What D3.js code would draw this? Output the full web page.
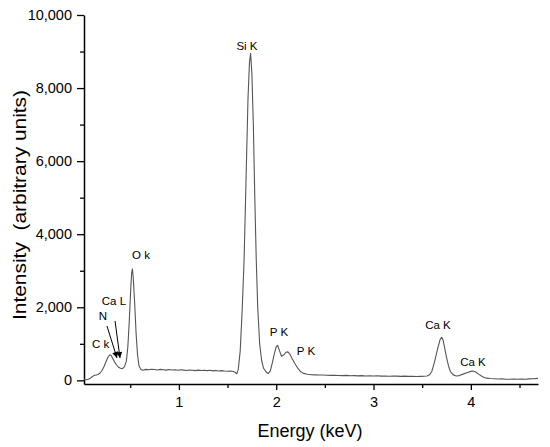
<!DOCTYPE html>
<html>
<head>
<meta charset="utf-8">
<script src="https://cdn.jsdelivr.net/npm/d3@7"></script>
<style>
  html, body { margin: 0; padding: 0; background: #fff; }
  svg { display: block; font-family: "Liberation Sans", Arial, sans-serif; }
</style>
</head>
<body>
<svg id="chart" width="550" height="447"></svg>
<script>
// ---- Data ----
const energy = [
  0.025,0.05,0.07,0.09,0.11,0.13,0.15,0.17,0.19,0.21,0.23,0.25,0.27,0.29,0.305,0.32,0.34,0.36,0.38,0.40,0.42,0.44,0.46,0.475,0.49,0.505,0.515,0.522,0.53,0.545,0.56,0.575,0.59,0.61,0.63,
  0.66,0.69,0.72,0.75,0.78,0.81,0.84,0.87,0.90,0.93,0.96,0.99,1.02,1.05,1.08,1.11,1.14,1.17,1.20,1.23,1.26,1.29,1.32,1.35,1.38,1.41,1.44,1.47,1.50,1.53,1.56,1.58,1.595,
  1.61,1.63,1.65,1.67,1.69,1.71,1.725,1.737,1.75,1.765,1.78,1.795,1.81,1.83,1.85,1.87,1.90,1.92,1.94,1.96,1.98,2.00,2.015,2.035,2.055,2.08,2.10,2.12,2.14,2.16,2.19,2.22,2.25,2.28,
  2.32,2.36,2.40,2.44,2.48,2.52,2.56,2.60,2.64,2.68,2.72,2.76,2.80,2.84,2.88,2.92,2.96,3.00,3.04,3.08,3.12,3.16,3.20,3.24,3.28,3.32,3.36,3.40,3.44,3.48,3.52,3.55,
  3.575,3.60,3.63,3.66,3.685,3.70,3.715,3.73,3.75,3.77,3.79,3.82,3.85,3.88,3.92,3.96,4.00,4.02,4.05,4.08,4.12,4.16,4.20,4.24,4.28,4.32,4.36,4.40,4.44,4.48,4.52,4.56,4.60,4.64,4.69
];
const intensity = [
  15,20,28,60,100,135,145,160,200,270,370,500,630,700,680,600,500,420,360,330,320,370,520,900,1600,2500,2950,3050,2850,2150,1300,700,400,300,275,
  300,290,305,295,285,300,290,280,295,285,290,275,290,280,270,285,275,265,280,270,275,265,275,260,270,255,265,255,250,255,240,215,175,
  300,800,1900,3300,5500,7700,8700,8950,8400,7000,5000,3300,2000,1000,550,330,220,190,260,480,720,920,960,800,660,700,770,780,720,610,470,340,240,190,
  165,155,150,145,148,140,135,140,132,128,135,125,130,122,128,120,125,118,124,115,120,112,118,115,110,116,108,112,106,110,112,118,
  150,250,540,880,1120,1180,1100,900,630,400,240,150,120,130,170,210,245,255,230,170,100,60,50,45,38,40,32,30,34,28,35,30,40,45,55
];

// Tick values and labels
const yMajorTicks = [0, 2000, 4000, 6000, 8000, 10000];
const yMinorTicks = [1000, 3000, 5000, 7000, 9000];
const xMajorTicks = [1, 2, 3, 4];
const xMinorTicks = [0.5, 1.5, 2.5, 3.5, 4.5];
const xTitle = "Energy (keV)";
const yTitle = "Intensity  (arbitrary units)";

// Peak annotations: label, energy, intensity at label baseline
const peakLabels = ["Si K", "O k", "Ca L", "N", "C k", "P K", "P K", "Ca K", "Ca K"];
const peakLabelE = [1.700, 0.611, 0.333, 0.220, 0.195, 2.029, 2.306, 3.662, 4.022];
const peakLabelI = [9042, 3321, 2062, 1652, 885, 1214, 694, 1405, 379];
// Arrows (N and Ca L): start / end in data coords
const arrowStartE = [0.261, 0.344];
const arrowStartI = [1488, 1624];
const arrowEndE = [0.364, 0.395];
const arrowEndI = [612, 612];

// ---- Chart ----
const svg = d3.select("#chart");
const x = d3.scaleLinear().domain([0.025, 4.69]).range([84, 538]);
const y = d3.scaleLinear().domain([-100, 10000]).range([384, 15]);

const fontTick = "14.5px";

// Y axis minor
svg.append("g")
  .attr("transform", "translate(84,0)")
  .call(d3.axisLeft(y).tickValues(yMinorTicks).tickSize(4).tickSizeOuter(0).tickFormat(""))
  .call(g => g.select(".domain").remove())
  .call(g => g.selectAll("line").attr("stroke", "#000").attr("stroke-width", 1.3));

// Y axis major
svg.append("g")
  .attr("transform", "translate(84,0)")
  .call(d3.axisLeft(y).tickValues(yMajorTicks).tickSize(7).tickSizeOuter(0).tickPadding(5).tickFormat(d3.format(",")))
  .call(g => g.select(".domain").attr("stroke", "#000").attr("stroke-width", 1.5))
  .call(g => g.selectAll("line").attr("stroke", "#000").attr("stroke-width", 1.3))
  .call(g => g.selectAll("text").attr("fill", "#000").style("font-size", fontTick).style("font-family", "Liberation Sans, Arial, sans-serif"));

// X axis minor
svg.append("g")
  .attr("transform", "translate(0,384)")
  .call(d3.axisBottom(x).tickValues(xMinorTicks).tickSize(4).tickSizeOuter(0).tickFormat(""))
  .call(g => g.select(".domain").remove())
  .call(g => g.selectAll("line").attr("stroke", "#000").attr("stroke-width", 1.3));

// X axis major
svg.append("g")
  .attr("transform", "translate(0,384)")
  .call(d3.axisBottom(x).tickValues(xMajorTicks).tickSize(6).tickSizeOuter(0).tickPadding(7).tickFormat(d3.format("d")))
  .call(g => g.select(".domain").attr("stroke", "#000").attr("stroke-width", 1.5))
  .call(g => g.selectAll("line").attr("stroke", "#000").attr("stroke-width", 1.3))
  .call(g => g.selectAll("text").attr("fill", "#000").style("font-size", fontTick).style("font-family", "Liberation Sans, Arial, sans-serif"));

// Spectrum line
const pts = energy.map((e, i) => [e, intensity[i]]);
svg.append("path")
  .datum(pts)
  .attr("fill", "none")
  .attr("stroke", "#555")
  .attr("stroke-width", 1.1)
  .attr("stroke-linejoin", "round")
  .attr("d", d3.line().x(d => x(d[0])).y(d => y(d[1])));

// Peak labels
svg.append("g").selectAll("text")
  .data(peakLabels)
  .join("text")
  .attr("x", (d, i) => x(peakLabelE[i]))
  .attr("y", (d, i) => y(peakLabelI[i]))
  .attr("text-anchor", "middle")
  .attr("fill", "#000")
  .style("font-size", "11.5px")
  .text(d => d);

// Arrows
svg.append("defs").append("marker")
  .attr("id", "arrowhead")
  .attr("viewBox", "0 0 10 10")
  .attr("refX", 10).attr("refY", 5)
  .attr("markerWidth", 8).attr("markerHeight", 6)
  .attr("markerUnits", "userSpaceOnUse")
  .attr("orient", "auto")
  .append("path")
  .attr("d", "M0,0 L10,5 L0,10 Z")
  .attr("fill", "#000");

svg.append("g").selectAll("line")
  .data(arrowStartE)
  .join("line")
  .attr("x1", (d, i) => x(arrowStartE[i]))
  .attr("y1", (d, i) => y(arrowStartI[i]))
  .attr("x2", (d, i) => x(arrowEndE[i]))
  .attr("y2", (d, i) => y(arrowEndI[i]))
  .attr("stroke", "#000")
  .attr("stroke-width", 1)
  .attr("marker-end", "url(#arrowhead)");

// Axis titles
svg.append("text")
  .attr("x", 310).attr("y", 437)
  .attr("text-anchor", "middle")
  .attr("fill", "#000")
  .style("font-size", "18px")
  .text(xTitle);

svg.append("text")
  .attr("transform", "translate(26,205) rotate(-90)")
  .attr("text-anchor", "middle")
  .attr("fill", "#000")
  .attr("textLength", 230)
  .attr("lengthAdjust", "spacingAndGlyphs")
  .style("white-space", "pre")
  .style("font-size", "18px")
  .text(yTitle);
</script>
</body>
</html>
